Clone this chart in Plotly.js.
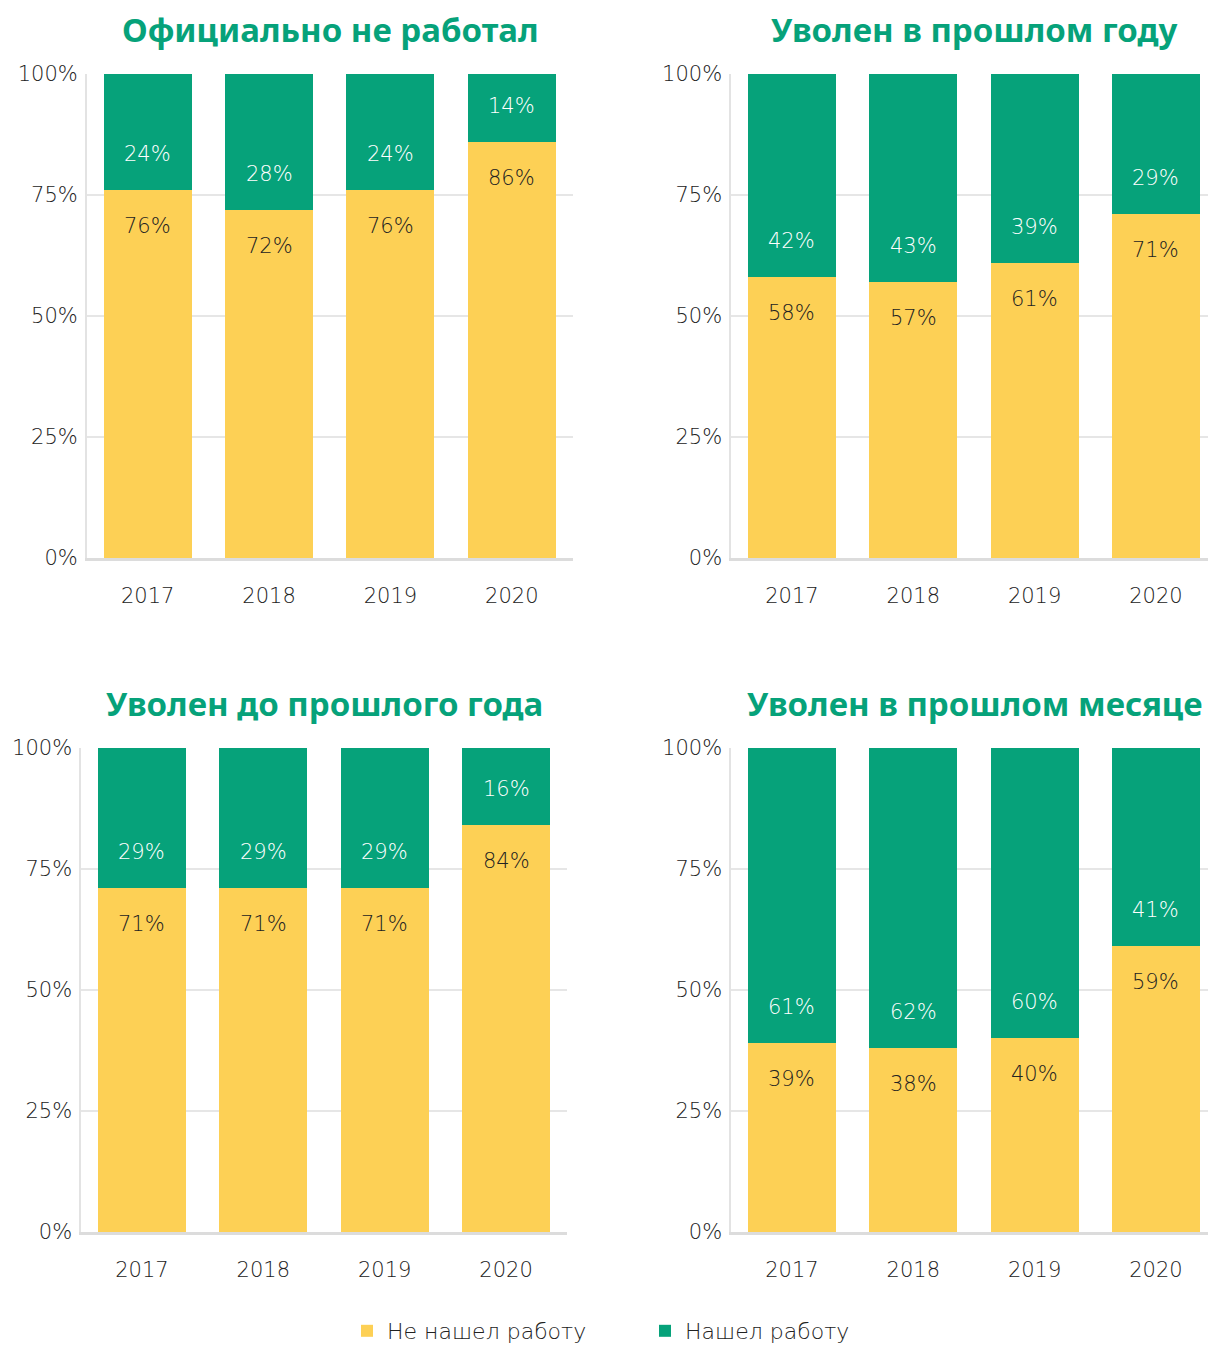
<!DOCTYPE html>
<html>
<head>
<meta charset="utf-8">
<script src="https://cdn.plot.ly/plotly-3.0.1.min.js"></script>
<style>html,body{margin:0;padding:0;background:#fff;}#chart{width:1208px;height:1352px;}</style>
</head>
<body>
<div id="chart"></div>
<script>
const years = ['2017', '2018', '2019', '2020'];
const panelTitles = ['Официально не работал', 'Уволен в прошлом году', 'Уволен до прошлого года', 'Уволен в прошлом месяце'];
const notFoundTL = [76, 72, 76, 86];
const foundTL = [24, 28, 24, 14];
const notFoundTR = [58, 57, 61, 71];
const foundTR = [42, 43, 39, 29];
const notFoundBL = [71, 71, 71, 84];
const foundBL = [29, 29, 29, 16];
const notFoundBR = [39, 38, 40, 59];
const foundBR = [61, 62, 60, 41];
const seriesNames = ['Не нашел работу', 'Нашел работу'];
const yTicks = [0, 25, 50, 75, 100];
const yTickText = ['0%', '25%', '50%', '75%', '100%'];

const YELLOW = '#FDD055';
const GREEN = '#06A27A';
const W = 1208, H = 1352;
const LIGHT = '"DejaVu Sans", sans-serif';
const LW = 200;
const FS = 21;

const panels = [
  {nf: notFoundTL, f: foundTL, x: [87, 572.5], y: [74, 558], xr: [-0.5, 3.5], tc: 330},
  {nf: notFoundTR, f: foundTR, x: [731.3, 1208], y: [74, 558], xr: [-0.5, 3.429], tc: 974},
  {nf: notFoundBL, f: foundBL, x: [81.3, 566.7], y: [748, 1232], xr: [-0.5, 3.5], tc: 324},
  {nf: notFoundBR, f: foundBR, x: [731.3, 1208], y: [748, 1232], xr: [-0.5, 3.429], tc: 975}
];

const data = [];
const annotations = [];
const layout = {
  width: W, height: H,
  margin: {l: 0, r: 0, t: 0, b: 0, autoexpand: false},
  paper_bgcolor: '#fff', plot_bgcolor: '#fff',
  barmode: 'stack', bargap: 0.275,
  font: {family: LIGHT, color: '#222', size: FS, weight: LW},
  showlegend: true,
  legend: {orientation: 'h', x: 347 / W, xanchor: 'left', y: 0, yanchor: 'bottom',
    entrywidth: 253, entrywidthmode: 'pixels',
    font: {size: 22, color: '#222', family: LIGHT, weight: LW}, traceorder: 'normal'}
};

panels.forEach((p, i) => {
  const n = i + 1;
  const xa = n === 1 ? 'x' : 'x' + n;
  const ya = n === 1 ? 'y' : 'y' + n;
  data.push({type: 'bar', x: years, y: p.nf, name: seriesNames[0], marker: {color: YELLOW},
    xaxis: xa, yaxis: ya, showlegend: i === 0, legendgroup: 'nf', hoverinfo: 'none'});
  data.push({type: 'bar', x: years, y: p.f, name: seriesNames[1], marker: {color: GREEN},
    xaxis: xa, yaxis: ya, showlegend: i === 0, legendgroup: 'f', hoverinfo: 'none'});
  const xk = n === 1 ? 'xaxis' : 'xaxis' + n;
  const yk = n === 1 ? 'yaxis' : 'yaxis' + n;
  layout[xk] = {
    domain: [p.x[0] / W, p.x[1] / W], anchor: ya, range: p.xr, type: 'category',
    showline: true, linecolor: '#dcdcdc', linewidth: 3, showgrid: false, zeroline: false,
    ticks: 'outside', ticklen: 17, tickcolor: 'rgba(0,0,0,0)',
    tickfont: {size: FS, color: '#222', family: LIGHT, weight: LW}, fixedrange: true
  };
  layout[yk] = {
    domain: [1 - p.y[1] / H, 1 - p.y[0] / H], anchor: xa, range: [0, 100],
    tickmode: 'array', tickvals: yTicks, ticktext: yTickText,
    showline: true, linecolor: '#e3e3e3', linewidth: 2, showgrid: true, gridcolor: '#e6e6e6', gridwidth: 1.5,
    zeroline: false, ticks: 'outside', ticklen: 3, tickcolor: 'rgba(0,0,0,0)',
    tickfont: {size: FS, color: '#222', family: LIGHT, weight: LW}, fixedrange: true
  };
  annotations.push({
    xref: 'paper', yref: 'paper', x: p.tc / W,
    y: 1 - (p.y[0] - 45) / H, text: '<b>' + panelTitles[i] + '</b>', showarrow: false,
    xanchor: 'center', yanchor: 'middle',
    font: {size: 33, color: GREEN, family: '"Noto Sans", sans-serif', weight: 800}
  });
  years.forEach((yr, j) => {
    annotations.push({xref: xa, yref: ya, x: j, y: p.nf[j], yshift: -36, text: p.nf[j] + '%',
      showarrow: false, xanchor: 'center', yanchor: 'middle', font: {size: FS, color: '#222', family: LIGHT, weight: LW}});
    annotations.push({xref: xa, yref: ya, x: j, y: p.nf[j], yshift: 36, text: p.f[j] + '%',
      showarrow: false, xanchor: 'center', yanchor: 'middle', font: {size: FS, color: '#ffffff', family: LIGHT, weight: LW}});
  });
});
layout.annotations = annotations;

Plotly.newPlot('chart', data, layout, {displayModeBar: false, staticPlot: true});
</script>
</body>
</html>
